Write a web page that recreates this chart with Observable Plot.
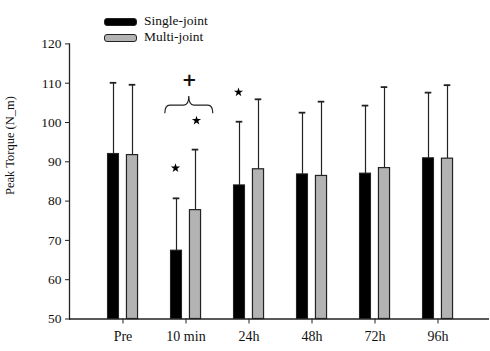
<!DOCTYPE html>
<html><head><meta charset="utf-8">
<script src="https://cdn.jsdelivr.net/npm/d3@7"></script>
<script src="https://cdn.jsdelivr.net/npm/@observablehq/plot@0.6"></script>
<style>
body{margin:0;background:#fff;}
#wrap{position:relative;width:490px;height:351px;font-family:"Liberation Serif","Times New Roman",serif;color:#111;}
.sw{position:absolute;left:104px;width:33px;height:8px;border:1px solid #222;border-radius:3px;box-sizing:border-box;}
.lt{position:absolute;left:144px;font-size:13.5px;line-height:13.5px;white-space:nowrap;}
</style></head><body><div id="wrap"></div>
<script>
// ---- data ----
const categories = ["Pre", "10 min", "24h", "48h", "72h", "96h"];
const series = ["Single-joint", "Multi-joint"];
const singleMean = [92.0, 67.4, 84.0, 86.8, 87.0, 90.9];
const singleSD   = [18.1, 13.3, 16.2, 15.7, 17.3, 16.7];
const multiMean  = [91.7, 77.7, 88.1, 86.4, 88.4, 90.8];
const multiSD    = [17.9, 15.4, 17.8, 18.9, 20.6, 18.7];
const yTicks = [50, 60, 70, 80, 90, 100, 110, 120];
const yLabel = "Peak Torque (N_m)";
// significance annotations
const starSingle = [{cat: "10 min", y: 88.4}, {cat: "24h", y: 107.7}];
const starMulti  = [{cat: "10 min", y: 100.5}];
const plusMark   = [{cat: "10 min", y: 110.8, text: "+"}];
const braceCat = "10 min";
const braceY = [102.2, 104.3, 106.6]; // ends, flat, tip

// ---- layout ----
const W = 490, H = 351, mL = 69, mR = 1, mT = 43.4, mB = 32.5;
const xRange = [90.3, 470.7];
const step = (xRange[1] - xRange[0]) / categories.length;
const off = 9.5, bw = 11.5, capW = 7;
const near = step / 2 - off - bw / 2, far = step / 2 + off - bw / 2;
const capNear = step / 2 - off - capW / 2, capFar = step / 2 + off - capW / 2;

const single = categories.map((c, i) => ({cat: c, s: series[0], mean: singleMean[i], up: singleMean[i] + singleSD[i]}));
const multi  = categories.map((c, i) => ({cat: c, s: series[1], mean: multiMean[i], up: multiMean[i] + multiSD[i]}));
const ink = "#222";

const chart = Plot.plot({
  width: W, height: H,
  marginLeft: mL, marginRight: mR, marginTop: mT, marginBottom: mB,
  style: {fontFamily: "'Liberation Serif','Times New Roman',serif", color: "#111", background: "#fff"},
  x: {domain: categories, range: xRange, padding: 0},
  y: {domain: [50, 120]},
  marks: [
    Plot.ruleY([50], {stroke: ink, strokeWidth: 1.3}),
    Plot.frame({anchor: "left", stroke: ink, strokeWidth: 1.3}),
    Plot.axisY({ticks: yTicks, tickSize: 4, tickPadding: 4, fontSize: 13.5, label: null, stroke: ink}),
    Plot.axisX({tickSize: 5, tickPadding: 7, fontSize: 14, label: null, stroke: ink}),
    Plot.text([yLabel], {frameAnchor: "left", rotate: -90, dx: -59.8, dy: 13.5, fontSize: 12.5}),
    // error bars
    Plot.ruleX(single, {x: "cat", y1: "mean", y2: "up", dx: -off, stroke: ink, strokeWidth: 1.2}),
    Plot.ruleX(multi,  {x: "cat", y1: "mean", y2: "up", dx: off,  stroke: ink, strokeWidth: 1.2}),
    Plot.tickY(single, {x: "cat", y: "up", insetLeft: capNear, insetRight: capFar, stroke: ink, strokeWidth: 1.8}),
    Plot.tickY(multi,  {x: "cat", y: "up", insetLeft: capFar, insetRight: capNear, stroke: ink, strokeWidth: 1.8}),
    // bars
    Plot.barY(single, {x: "cat", y1: () => 50, y2: "mean", fill: "#000", stroke: ink, strokeWidth: 1, insetLeft: near, insetRight: far}),
    Plot.barY(multi,  {x: "cat", y1: () => 50, y2: "mean", fill: "#b3b3b3", stroke: ink, strokeWidth: 1.2, insetLeft: far, insetRight: near}),
    // annotations
    Plot.dot(starSingle, {x: "cat", y: "y", dx: -off - 1, symbol: "star", r: 2.9, fill: "#000", stroke: "none"}),
    Plot.dot(starMulti,  {x: "cat", y: "y", dx: off + 1,  symbol: "star", r: 2.9, fill: "#000", stroke: "none"}),
    Plot.text(plusMark, {x: "cat", y: "y", text: "text", dx: 3.3, fontSize: 18, fontWeight: "bold", fontFamily: "'DejaVu Sans'"})
  ]
});

// brace drawn through the chart's scales
const xs = chart.scale("x"), ys = chart.scale("y");
const bcx = xs.apply(braceCat) + xs.bandwidth / 2 + 3.3;
const yE = ys.apply(braceY[0]), yF = ys.apply(braceY[1]), yT = ys.apply(braceY[2]);
const hw = 24;
const p = `M${bcx - hw},${yE} Q${bcx - hw},${yF} ${bcx - hw + 5},${yF} L${bcx - 5},${yF} Q${bcx},${yF} ${bcx},${yT} Q${bcx},${yF} ${bcx + 5},${yF} L${bcx + hw - 5},${yF} Q${bcx + hw},${yF} ${bcx + hw},${yE}`;
d3.select(chart).append("path").attr("d", p).attr("fill", "none").attr("stroke", ink).attr("stroke-width", 1.2);

const wrap = document.getElementById("wrap");
wrap.appendChild(chart);
// legend
const leg = [
  {name: series[0], fill: "#000", top: 17.5, ttop: 13.7},
  {name: series[1], fill: "#b3b3b3", top: 33.8, ttop: 30.4}
];
for (const l of leg) {
  const s = document.createElement("div");
  s.className = "sw"; s.style.top = l.top + "px"; s.style.background = l.fill;
  wrap.appendChild(s);
  const t = document.createElement("div");
  t.className = "lt"; t.style.top = l.ttop + "px"; t.textContent = l.name;
  wrap.appendChild(t);
}
</script></body></html>
